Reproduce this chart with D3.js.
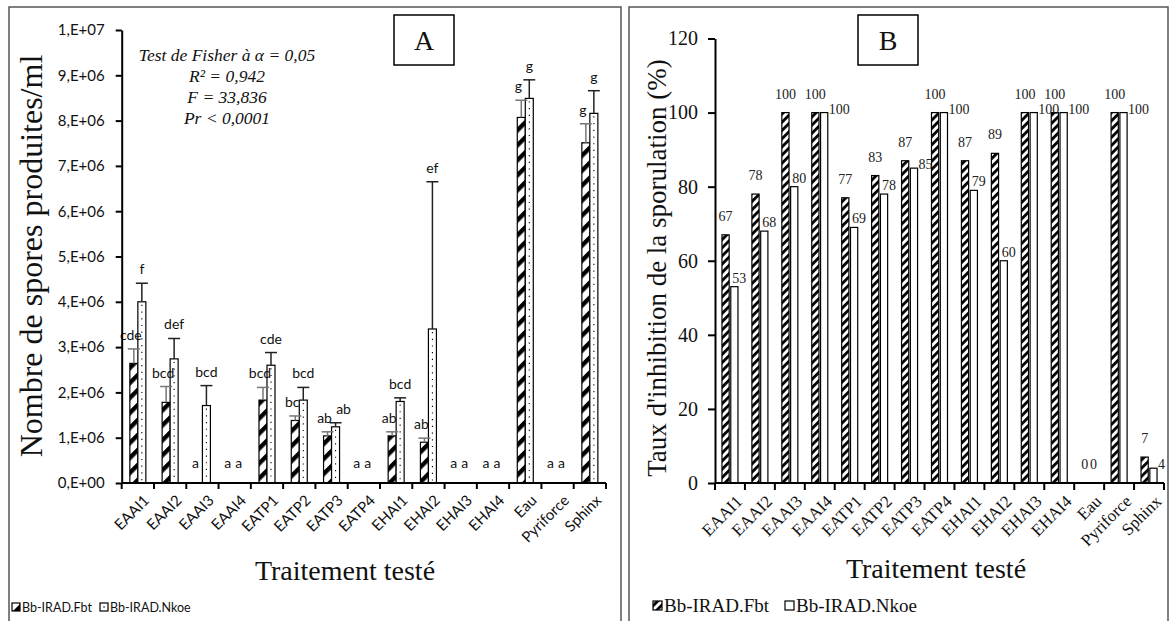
<!DOCTYPE html>
<html><head><meta charset="utf-8">
<script src="https://cdn.jsdelivr.net/npm/d3@7"></script>
<style>body{margin:0;background:#fff}svg{display:block}</style>
</head><body>
<svg id="c" width="1171" height="621"></svg>
<script>
// ---------- DATA ----------
const categories = ["EAAI1","EAAI2","EAAI3","EAAI4","EATP1","EATP2","EATP3","EATP4","EHAI1","EHAI2","EHAI3","EHAI4","Eau","Pyriforce","Sphinx"];
const seriesNames = ["Bb-IRAD.Fbt","Bb-IRAD.Nkoe"];
// Panel A: spores produced / ml
const sporesFbt  = [2.64e6,1.78e6,0,0,1.83e6,1.38e6,1.04e6,0,1.04e6,0.90e6,0,0,8.07e6,0,7.51e6];
const errFbt     = [0.32e6,0.35e6,0,0,0.28e6,0.10e6,0.09e6,0,0.09e6,0.09e6,0,0,0.38e6,0,0.42e6];
const sporesNkoe = [4.00e6,2.74e6,1.71e6,0,2.60e6,1.83e6,1.24e6,0,1.80e6,3.40e6,0,0,8.49e6,0,8.16e6];
const errNkoe    = [0.41e6,0.45e6,0.44e6,0,0.28e6,0.28e6,0.09e6,0,0.08e6,3.25e6,0,0,0.41e6,0,0.50e6];
const lettersFbt  = ["cde","bcd","a","a","bcd","bc","ab","a","ab","ab","a","a","g","a","g"];
const lettersNkoe = ["f","def","bcd","a","cde","bcd","ab","a","bcd","ef","a","a","g","a","g"];
const yTicksA = [0,1e6,2e6,3e6,4e6,5e6,6e6,7e6,8e6,9e6,1e7];
const yTickLabelsA = ["0,E+00","1,E+06","2,E+06","3,E+06","4,E+06","5,E+06","6,E+06","7,E+06","8,E+06","9,E+06","1,E+07"];
const statsLines = ["Test de Fisher à α = 0,05","R² = 0,942","F = 33,836","Pr < 0,0001"];
// Panel B: inhibition of sporulation (%)
const inhibFbt  = [67,78,100,100,77,83,87,100,87,89,100,100,0,100,7];
const inhibNkoe = [53,68,80,100,69,78,85,100,79,60,100,100,0,100,4];
const yTicksB = [0,20,40,60,80,100,120];

// ---------- SETUP ----------
const svg = d3.select("#c");
const SERIF = "'Liberation Serif','Times New Roman',serif";
const SANS = "Lato,'Open Sans',sans-serif";
svg.append("rect").attr("width",1171).attr("height",621).attr("fill","#fff");
const defs = svg.append("defs");
function hatch(id, period, thick){
  const p = defs.append("pattern").attr("id",id).attr("patternUnits","userSpaceOnUse")
    .attr("width",20).attr("height",period).attr("patternTransform","rotate(-45)");
  p.append("rect").attr("width",20).attr("height",period).attr("fill","#fff");
  p.append("rect").attr("width",20).attr("height",thick).attr("fill","#000");
}
hatch("hatchA",10.6,4.4);
hatch("hatchB",5.8,2.8);

// panel frames
svg.append("path").attr("d","M9,621V7H621V621").attr("fill","none").attr("stroke","#555").attr("stroke-width",1.5);
svg.append("path").attr("d","M629,621V7H1168V621").attr("fill","none").attr("stroke","#555").attr("stroke-width",1.5);

// ---------- PANEL A ----------
const gA = svg.append("g");
const xA = d3.scaleBand().domain(categories).range([121.7,606]);
const yA = d3.scaleLinear().domain([0,1e7]).range([483,30]);
const bwA = 8;

gA.selectAll(".bf").data(categories).join("rect")
  .attr("x",d=>xA(d)+xA.bandwidth()/2-bwA).attr("width",bwA)
  .attr("y",(d,i)=>yA(sporesFbt[i])).attr("height",(d,i)=>yA(0)-yA(sporesFbt[i]))
  .attr("fill","url(#hatchA)").attr("stroke","#000").attr("stroke-width",1.2)
  .style("display",(d,i)=>sporesFbt[i]>0?null:"none");
gA.selectAll(".bn").data(categories).join("rect")
  .attr("x",d=>xA(d)+xA.bandwidth()/2).attr("width",bwA)
  .attr("y",(d,i)=>yA(sporesNkoe[i])).attr("height",(d,i)=>yA(0)-yA(sporesNkoe[i]))
  .attr("fill","#fff").attr("stroke","#000").attr("stroke-width",1.2)
  .style("display",(d,i)=>sporesNkoe[i]>0?null:"none");
gA.selectAll(".dn").data(categories).join("line")
  .attr("x1",d=>xA(d)+xA.bandwidth()/2+bwA/2).attr("x2",d=>xA(d)+xA.bandwidth()/2+bwA/2)
  .attr("y1",(d,i)=>yA(sporesNkoe[i])+3).attr("y2",yA(0))
  .attr("stroke","#000").attr("stroke-width",1.1).attr("stroke-dasharray","1.2,5.5")
  .style("display",(d,i)=>sporesNkoe[i]>0?null:"none");

function errBars(vals, errs, dx, color){
  const g = gA.append("g").attr("stroke",color).attr("stroke-width",1.5);
  categories.forEach((c,i)=>{
    if(errs[i]<=0) return;
    const cx = xA(c)+xA.bandwidth()/2+dx;
    g.append("line").attr("x1",cx).attr("x2",cx).attr("y1",yA(vals[i])).attr("y2",yA(vals[i]+errs[i]));
    g.append("line").attr("x1",cx-6).attr("x2",cx+6).attr("y1",yA(vals[i]+errs[i])).attr("y2",yA(vals[i]+errs[i]));
  });
}
errBars(sporesFbt, errFbt, -bwA/2, "#777");
errBars(sporesNkoe, errNkoe, bwA/2, "#222");

// significance letters above error bars
const labelYA = (vals, errs, i) => vals[i]>0 ? yA(vals[i]+errs[i])-9 : yA(0)-15;
gA.append("g").selectAll("text").data(categories).join("text")
  .attr("x",d=>xA(d)+xA.bandwidth()/2-bwA/2-3)
  .attr("y",(d,i)=>labelYA(sporesFbt,errFbt,i))
  .attr("text-anchor","middle").attr("font-family",SANS).attr("font-size",14).attr("fill","#111")
  .text((d,i)=>lettersFbt[i]);
gA.append("g").selectAll("text").data(categories).join("text")
  .attr("x",(d,i)=>{
    const yf = labelYA(sporesFbt,errFbt,i), yn = labelYA(sporesNkoe,errNkoe,i);
    const clash = sporesNkoe[i]>0 && sporesFbt[i]>0 && Math.abs(yf-yn) < 14;
    return xA(d)+xA.bandwidth()/2+bwA/2+(clash?8:0);
  })
  .attr("y",(d,i)=>labelYA(sporesNkoe,errNkoe,i))
  .attr("text-anchor","middle").attr("font-family",SANS).attr("font-size",14).attr("fill","#111")
  .text((d,i)=>lettersNkoe[i]);

const axA = gA.append("g").attr("transform","translate(121.7,0)")
  .call(d3.axisLeft(yA).tickValues(yTicksA).tickFormat((d,i)=>yTickLabelsA[i]).tickSize(6).tickSizeOuter(0).tickPadding(11));
axA.select(".domain").attr("stroke","#000").attr("stroke-width",2);
axA.selectAll(".tick line").attr("stroke","#000").attr("stroke-width",2);
axA.selectAll(".tick text").attr("font-family",SANS).attr("font-size",15).attr("fill","#111");

const boundsA = categories.map(c=>xA(c)).concat([xA.range()[1]]);
gA.append("line").attr("x1",121.7).attr("x2",606).attr("y1",yA(0)).attr("y2",yA(0)).attr("stroke","#000").attr("stroke-width",2);
gA.selectAll(".xt").data(boundsA).join("line").attr("x1",d=>d).attr("x2",d=>d).attr("y1",yA(0)).attr("y2",yA(0)+6).attr("stroke","#000").attr("stroke-width",2);
gA.selectAll(".xl").data(categories).join("text")
  .attr("transform",d=>`translate(${xA(d)+xA.bandwidth()/2+5},${yA(0)+11}) rotate(-45)`)
  .attr("text-anchor","end").attr("dy","0.7em").attr("font-family",SANS).attr("font-size",15).attr("fill","#111")
  .text(d=>d);

gA.append("text").attr("transform","translate(31,256) rotate(-90)").attr("text-anchor","middle").attr("dominant-baseline","central")
  .attr("font-family",SERIF).attr("font-size",32).attr("fill","#111").text("Nombre de spores produites/ml");
gA.append("text").attr("x",345).attr("y",580).attr("text-anchor","middle").attr("font-family",SERIF).attr("font-size",28).attr("fill","#111").text("Traitement testé");
gA.append("g").selectAll("text").data(statsLines).join("text")
  .attr("x",227).attr("y",(d,i)=>61+i*21).attr("text-anchor","middle").attr("font-family",SERIF).attr("font-style","italic")
  .attr("font-size",17.5).attr("fill","#111").text(d=>d);
gA.append("rect").attr("x",394).attr("y",15).attr("width",60).attr("height",50).attr("fill","#fff").attr("stroke","#000").attr("stroke-width",1.5);
gA.append("text").attr("x",424).attr("y",50).attr("text-anchor","middle").attr("font-family",SERIF).attr("font-size",28).attr("fill","#111").text("A");

const legA = gA.append("g").attr("transform","translate(12,612)");
[0,1].forEach(k=>{
  const ox = k===0?0:88;
  legA.append("rect").attr("x",ox).attr("y",-9).attr("width",8).attr("height",8).attr("fill",k===0?"url(#hatchA)":"#fff").attr("stroke","#000").attr("stroke-width",1.2);
  if(k===1) legA.append("rect").attr("x",ox+3.4).attr("y",-5.6).attr("width",1.3).attr("height",1.3).attr("fill","#000");
  legA.append("text").attr("x",ox+10).attr("y",0).attr("font-family",SANS).attr("font-size",12.5).attr("fill","#111").text(seriesNames[k]);
});

// ---------- PANEL B ----------
const gB = svg.append("g");
const xB = d3.scaleBand().domain(categories).range([715,1164]);
const yB = d3.scaleLinear().domain([0,120]).range([483,38.5]);
const bwB = 7.2, gapB = 0.8;
gB.selectAll(".bf").data(categories).join("rect")
  .attr("x",d=>xB(d)+xB.bandwidth()/2-bwB-gapB).attr("width",bwB)
  .attr("y",(d,i)=>yB(inhibFbt[i])).attr("height",(d,i)=>yB(0)-yB(inhibFbt[i]))
  .attr("fill","url(#hatchB)").attr("stroke","#000").attr("stroke-width",1.2)
  .style("display",(d,i)=>inhibFbt[i]>0?null:"none");
gB.selectAll(".bn").data(categories).join("rect")
  .attr("x",d=>xB(d)+xB.bandwidth()/2+gapB).attr("width",bwB)
  .attr("y",(d,i)=>yB(inhibNkoe[i])).attr("height",(d,i)=>yB(0)-yB(inhibNkoe[i]))
  .attr("fill","#fff").attr("stroke","#000").attr("stroke-width",1.2)
  .style("display",(d,i)=>inhibNkoe[i]>0?null:"none");
gB.append("g").selectAll("text").data(categories).join("text")
  .attr("x",d=>xB(d)+xB.bandwidth()/2-bwB/2-gapB).attr("y",(d,i)=>yB(inhibFbt[i])-14)
  .attr("text-anchor","middle").attr("font-family",SERIF).attr("font-size",14).attr("fill","#222").text((d,i)=>inhibFbt[i]);
gB.append("g").selectAll("text").data(categories).join("text")
  .each(function(d,i){
    const v = inhibNkoe[i], cx = xB(d)+xB.bandwidth()/2+bwB/2+gapB;
    const t = d3.select(this).attr("font-family",SERIF).attr("font-size",14).attr("fill","#222").text(v);
    if(v===0){ t.attr("x",cx).attr("y",yB(0)-14).attr("text-anchor","middle"); }
    else if(Math.abs(inhibFbt[i]-v) < 5){ t.attr("x",cx+bwB/2+1).attr("y",yB(v)+1).attr("text-anchor","start"); }
    else { t.attr("x",cx+5).attr("y",yB(v)-4).attr("text-anchor","middle"); }
  });

const axB = gB.append("g").attr("transform","translate(715,0)")
  .call(d3.axisLeft(yB).tickValues(yTicksB).tickSize(7).tickSizeOuter(0).tickPadding(10));
axB.select(".domain").attr("stroke","#000").attr("stroke-width",2);
axB.selectAll(".tick line").attr("stroke","#000").attr("stroke-width",2);
axB.selectAll(".tick text").attr("font-family",SERIF).attr("font-size",20).attr("fill","#111");
const boundsB = categories.map(c=>xB(c)).concat([xB.range()[1]]);
gB.append("line").attr("x1",715).attr("x2",1164).attr("y1",yB(0)).attr("y2",yB(0)).attr("stroke","#000").attr("stroke-width",2);
gB.selectAll(".xt").data(boundsB).join("line").attr("x1",d=>d).attr("x2",d=>d).attr("y1",yB(0)).attr("y2",yB(0)+7).attr("stroke","#000").attr("stroke-width",2);
gB.selectAll(".xl").data(categories).join("text")
  .attr("transform",d=>`translate(${xB(d)+xB.bandwidth()/2+5},${yB(0)+11}) rotate(-45)`)
  .attr("text-anchor","end").attr("dy","0.7em").attr("font-family",SERIF).attr("font-size",17).attr("fill","#111")
  .text(d=>d);
gB.append("text").attr("transform","translate(657,268) rotate(-90)").attr("text-anchor","middle").attr("dominant-baseline","central")
  .attr("font-family",SERIF).attr("font-size",27).attr("fill","#111").text("Taux d'inhibition de la sporulation (%)");
gB.append("text").attr("x",936).attr("y",578).attr("text-anchor","middle").attr("font-family",SERIF).attr("font-size",28).attr("fill","#111").text("Traitement testé");
gB.append("rect").attr("x",858).attr("y",15).attr("width",60).attr("height",50).attr("fill","#fff").attr("stroke","#000").attr("stroke-width",1.5);
gB.append("text").attr("x",888).attr("y",50).attr("text-anchor","middle").attr("font-family",SERIF).attr("font-size",28).attr("fill","#111").text("B");
const legB = gB.append("g").attr("transform","translate(653,612)");
[0,1].forEach(k=>{
  const ox = k===0?0:132;
  legB.append("rect").attr("x",ox).attr("y",-11).attr("width",9).attr("height",9).attr("fill",k===0?"url(#hatchB)":"#fff").attr("stroke","#000").attr("stroke-width",1.2);
  legB.append("text").attr("x",ox+11).attr("y",0).attr("font-family",SERIF).attr("font-size",19).attr("fill","#111").text(seriesNames[k]);
});
</script>
</body></html>
